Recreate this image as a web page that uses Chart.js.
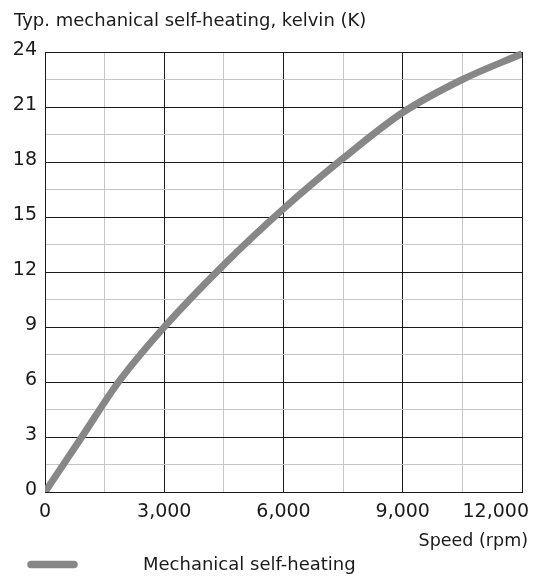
<!DOCTYPE html>
<html>
<head>
<meta charset="utf-8">
<title>Mechanical self-heating</title>
<script src="https://cdn.jsdelivr.net/npm/chart.js@4/dist/chart.umd.min.js"></script>
<style>
  html, body { margin: 0; padding: 0; background: #ffffff; }
  #wrap { position: relative; width: 539px; height: 576px; }
</style>
</head>
<body>
<div id="wrap"><canvas id="chart" width="539" height="576"></canvas></div>
<script>
// Speed (rpm) and typical mechanical self-heating (K)
const speedRpm  = [0, 925, 1850, 3000, 4500, 6000, 7500, 9000, 10500, 12000];
const heatingK  = [0, 3.0, 6.0,  9.0,  12.4, 15.45, 18.2, 20.7, 22.5, 23.9];

const yTicks = [0, 3, 6, 9, 12, 15, 18, 21, 24];
const xTicks = [0, 3000, 6000, 9000, 12000];

const yTitle = 'Typ. mechanical self-heating, kelvin (K)';
const xTitle = 'Speed (rpm)';
const seriesName = 'Mechanical self-heating';

const FONT = '"DejaVu Sans", Verdana, sans-serif';
const TEXT = '#1a1a1a';
const LINE = '#878787';

const points = speedRpm.map((s, i) => ({ x: s, y: heatingK[i] }));

// Major lines every 3 K / 3,000 rpm are dark, the halfway lines light grey
const gridColor = (ctx, majors) =>
  majors.includes(ctx.tick && ctx.tick.value) ? '#1a1a1a' : '#c6c6c6';

// Speed labels, axis titles and the legend row, drawn around the plot
const annotate = {
  id: 'annotate',
  afterDraw(chart) {
    const { ctx, scales } = chart;
    ctx.save();
    ctx.fillStyle = TEXT;
    ctx.textBaseline = 'alphabetic';

    // speed tick labels: centred under their line, the last one kept inside the page
    ctx.font = '19px ' + FONT;
    xTicks.forEach((v, i) => {
      const px = scales.x.getPixelForValue(v);
      const last = i === xTicks.length - 1;
      ctx.textAlign = last ? 'right' : 'center';
      ctx.fillText(v.toLocaleString('en-US'), last ? px + 7 : px, 517);
    });

    ctx.font = '18px ' + FONT;
    ctx.textAlign = 'left';
    ctx.fillText(yTitle, 14, 26);

    ctx.font = '17.5px ' + FONT;
    ctx.textAlign = 'right';
    ctx.fillText(xTitle, 528, 546);

    // legend
    const ds = chart.data.datasets[0];
    ctx.strokeStyle = ds.borderColor;
    ctx.lineWidth = 7.5;
    ctx.lineCap = 'round';
    ctx.beginPath();
    ctx.moveTo(31, 564.5);
    ctx.lineTo(74, 564.5);
    ctx.stroke();

    ctx.font = '18px ' + FONT;
    ctx.textAlign = 'left';
    ctx.fillText(ds.label, 143, 570);
    ctx.restore();
  }
};

new Chart(document.getElementById('chart'), {
  type: 'line',
  data: {
    datasets: [{
      label: seriesName,
      data: points,
      borderColor: LINE,
      backgroundColor: LINE,
      borderWidth: 7,
      pointRadius: 0,
      cubicInterpolationMode: 'monotone',
      clip: { left: 0, right: 0, bottom: 0, top: 3 }
    }]
  },
  options: {
    responsive: false,
    animation: false,
    layout: { padding: { top: 52, right: 17, bottom: 54, left: 0 } },
    plugins: { legend: { display: false }, tooltip: { enabled: false }, title: { display: false } },
    scales: {
      x: {
        type: 'linear',
        min: 0,
        max: 12000,
        afterFit(scale) {
          scale.height = 30;
          scale.paddingLeft = 0;
          scale.paddingRight = 0;
        },
        afterBuildTicks(scale) {
          const t = [];
          for (let v = 0; v <= 12000; v += 1500) t.push({ value: v });
          scale.ticks = t;
        },
        ticks: { display: false, autoSkip: false },
        grid: { drawTicks: false, lineWidth: 1, color: ctx => gridColor(ctx, xTicks) },
        border: { display: true, color: '#1a1a1a', width: 1 }
      },
      y: {
        type: 'linear',
        min: 0,
        max: 24,
        afterFit(scale) {
          scale.width = 45;
          scale.paddingTop = 0;
          scale.paddingBottom = 0;
        },
        afterBuildTicks(scale) {
          const t = [];
          for (let v = 0; v <= 24; v += 1.5) t.push({ value: v });
          scale.ticks = t;
        },
        ticks: {
          autoSkip: false,
          padding: 8,
          labelOffset: -2,
          color: TEXT,
          font: { family: FONT, size: 19 },
          callback: v => yTicks.includes(v) ? String(v) : ''
        },
        grid: { drawTicks: false, lineWidth: 1, color: ctx => gridColor(ctx, yTicks) },
        border: { display: true, color: '#1a1a1a', width: 1 }
      }
    }
  },
  plugins: [annotate]
});
</script>
</body>
</html>
